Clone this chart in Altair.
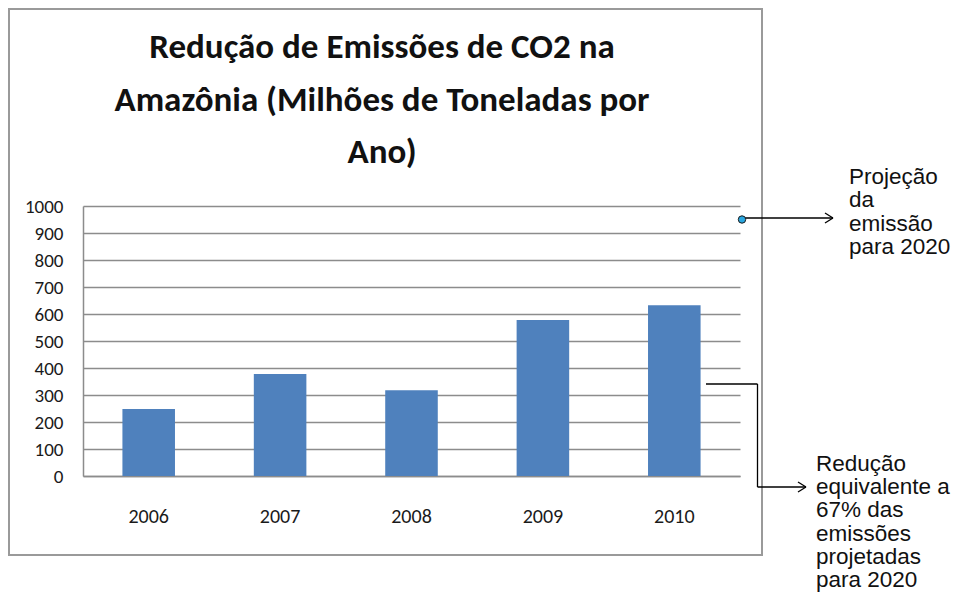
import altair as alt
import pandas as pd

# ---- data ----
anos = ["2006", "2007", "2008", "2009", "2010"]
emissoes = [248, 378, 318, 578, 632]
y_ticks = [0, 100, 200, 300, 400, 500, 600, 700, 800, 900, 1000]
titulo = ["Redução de Emissões de CO2 na",
          "Amazônia (Milhões de Toneladas por",
          "Ano)"]
nota_proj = ["Projeção", "da", "emissão", "para 2020"]
nota_red = ["Redução", "equivalente a", "67% das", "emissões",
            "projetadas", "para 2020"]

df = pd.DataFrame({"Ano": anos, "Emissao": emissoes})
one = pd.DataFrame({"k": [0]})

# page position of the plot origin (8px page margin + padding)
X0, Y0 = 83, 206


def px(x):
    return x - X0


def py(y):
    return y - Y0


CAL = "Carlito, Lato, sans-serif"
ARIAL = "Liberation Sans, Arial, sans-serif"
GRID = "#8c8c8c"

box = alt.Chart(one).mark_rect(
    fillOpacity=0, stroke="#9a9a9a", strokeWidth=2
).encode(
    x=alt.value(px(9)), x2=alt.value(px(762)),
    y=alt.value(py(9)), y2=alt.value(py(555)),
)

bars = alt.Chart(df).mark_bar(color="#4F81BD").encode(
    x=alt.X(
        "Ano:N", sort=anos,
        scale=alt.Scale(paddingInner=0.6, paddingOuter=0.3),
        axis=alt.Axis(
            title=None, labelAngle=0, ticks=False, tickSize=0,
            labelPadding=30, labelFontSize=20, labelFont=CAL,
            labelColor="#1a1a1a", domainColor=GRID, domainWidth=1.5,
            grid=False,
        ),
    ),
    y=alt.Y(
        "Emissao:Q",
        scale=alt.Scale(domain=[0, 1000], nice=False),
        axis=alt.Axis(
            title=None, values=y_ticks, format="d", ticks=False, tickSize=0,
            labelPadding=20, labelFontSize=19, labelFont=CAL,
            labelColor="#1a1a1a", domainColor=GRID, domainWidth=1.5,
            grid=True, gridColor=GRID, gridWidth=1.5,
        ),
    ),
)


def text_block(lines, x, y, size, lh, font, weight="normal", align="left"):
    # y is the centre of the first line
    return alt.Chart(one).mark_text(
        text=lines, fontSize=size, lineHeight=lh, font=font,
        fontWeight=weight, align=align, baseline="middle", color="#111111",
    ).encode(x=alt.value(px(x)), y=alt.value(py(y)))


title = text_block(titulo, 382, 47, 35, 52.5, CAL, "bold", "center")
t_proj = text_block(nota_proj, 849, 177, 22.5, 23.3, ARIAL)
t_red = text_block(nota_red, 816, 464, 22.5, 23.2, ARIAL)


def seg(x1, y1, x2, y2):
    return alt.Chart(one).mark_rule(color="#000000", strokeWidth=1.3).encode(
        x=alt.value(px(x1)), y=alt.value(py(y1)),
        x2=alt.value(px(x2)), y2=alt.value(py(y2)),
    )


arrows = [
    seg(745, 218, 833, 218),
    seg(833, 218, 825, 213),
    seg(833, 218, 825, 223),
    seg(706, 384, 757.5, 384),
    seg(757.5, 384, 757.5, 487),
    seg(757.5, 487, 806, 487),
    seg(806, 487, 798, 482),
    seg(806, 487, 798, 492),
]

dot = alt.Chart(one).mark_point(
    filled=True, fill="#2aa7e0", stroke="#1a1a1a", strokeWidth=1,
    size=55, shape="circle", opacity=1,
).encode(x=alt.value(px(742)), y=alt.value(py(219.5)))

chart = alt.layer(box, bars, title, t_proj, t_red, *arrows, dot).properties(
    width=657, height=270,
    padding={"left": 75, "top": 198, "right": 211, "bottom": 117},
    autosize=alt.AutoSizeParams(type="none"),
).configure_view(stroke=None)

chart.save("out.html", embed_options={"renderer": "svg", "actions": False})
